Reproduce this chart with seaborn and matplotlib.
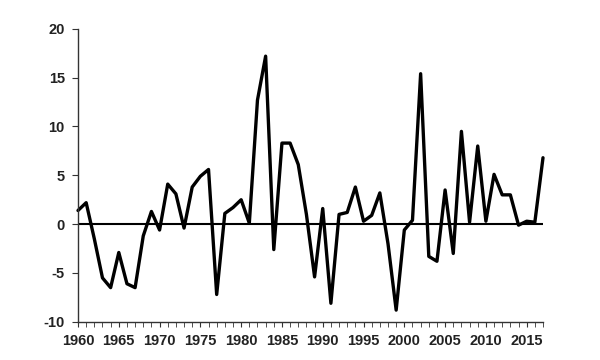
import numpy as np
import pandas as pd
import matplotlib
matplotlib.use("Agg")
import matplotlib.pyplot as plt
import seaborn as sns

years = list(range(1960, 2018))
values = [1.4, 2.2, -1.5, -5.5, -6.5, -2.9, -6.1, -6.5, -1.2, 1.3,
          -0.6, 4.1, 3.1, -0.4, 3.8, 4.9, 5.6, -7.2, 1.1, 1.7,
          2.5, 0.1, 12.7, 17.2, -2.6, 8.3, 8.3, 6.1, 1.0, -5.4,
          1.6, -8.1, 1.0, 1.2, 3.8, 0.3, 0.9, 3.2, -2.0, -8.8,
          -0.6, 0.4, 15.4, -3.3, -3.8, 3.5, -3.0, 9.5, 0.2, 8.0,
          0.3, 5.1, 3.0, 3.0, -0.1, 0.3, 0.2, 6.8]
xticks = list(range(1960, 2020, 5))
yticks = [-10, -5, 0, 5, 10, 15, 20]

df = pd.DataFrame({"year": years, "value": values})

sns.set_style("ticks")
plt.rcParams["font.family"] = ["Liberation Sans", "DejaVu Sans"]
plt.rcParams["axes.unicode_minus"] = False

fig = plt.figure(figsize=(6, 3.6), dpi=100)
ax = fig.add_axes([0.13, 0.106, 0.775, 0.814])

ax.axhline(0, color="black", lw=1.5, zorder=1)
sns.lineplot(data=df, x="year", y="value", ax=ax, color="black", lw=2.4,
             zorder=2, clip_on=False)

ax.set_xlim(1960, 2017)
ax.set_ylim(-10, 20)
ax.set_xticks(xticks)
ax.set_xticks(years, minor=True)
ax.set_yticks(yticks)
ax.set_xlabel("")
ax.set_ylabel("")

for s in ["top", "right"]:
    ax.spines[s].set_visible(False)
for s in ["left", "bottom"]:
    ax.spines[s].set_color("#333333")
    ax.spines[s].set_linewidth(1.0)

ax.tick_params(axis="both", which="both", direction="out", color="#333333",
               labelsize=10.5)
ax.tick_params(axis="x", which="both", length=3.5, pad=5)
ax.tick_params(axis="y", length=4.5, pad=5)
for lab in ax.get_xticklabels() + ax.get_yticklabels():
    lab.set_fontweight("bold")
    lab.set_color("#222222")

fig.savefig("out.png", dpi=100)
